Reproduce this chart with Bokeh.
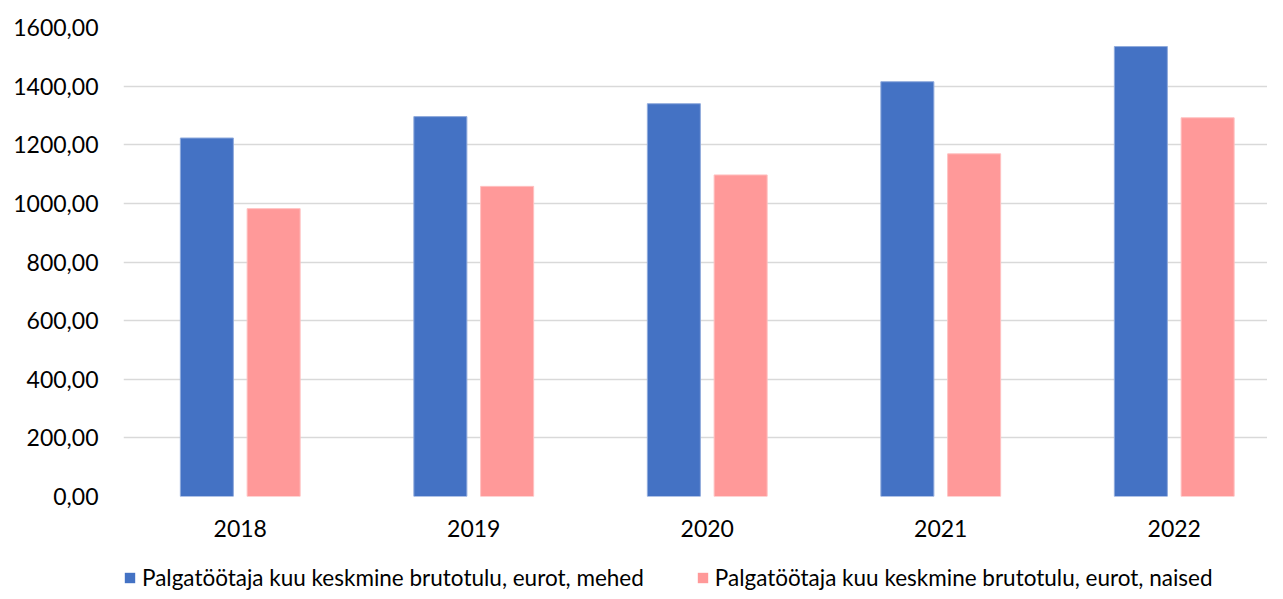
from bokeh.plotting import figure
from bokeh.layouts import column
from bokeh.models import ColumnDataSource, FixedTicker, Legend, LegendItem, Range1d
from bokeh.transform import dodge
from bokeh.embed import file_html
from bokeh.resources import INLINE

years = [2018, 2019, 2020, 2021, 2022]
men = [1223, 1296, 1340, 1415, 1535]
women = [982, 1058, 1097, 1169, 1292]
y_ticks = [0, 200, 400, 600, 800, 1000, 1200, 1400, 1600]
label_men = "Palgatöötaja kuu keskmine brutotulu, eurot, mehed"
label_women = "Palgatöötaja kuu keskmine brutotulu, eurot, naised"

src = ColumnDataSource(dict(year=years, men=men, women=women))

FONT = "Lato"
BLUE, PINK = "#4472C4", "#FF9999"
W, H_MAIN, H_LEG = 1267, 564, 27
LEFT, TOP, BOTTOM_Y = 123, 27, 496

p = figure(width=W, height=H_MAIN, output_backend="svg", toolbar_location=None,
           x_range=Range1d(2017.5, 2017.5 + (W - LEFT) / 233.5),
           y_range=Range1d(0, 1600),
           min_border_left=LEFT, min_border_top=TOP,
           min_border_bottom=H_MAIN - BOTTOM_Y, min_border_right=0)
p.outline_line_color = None

p.vbar(x=dodge("year", -0.143), top="men", width=0.227, source=src,
       fill_color=BLUE, line_color="#8faadc", line_width=1)
p.vbar(x=dodge("year", 0.143), top="women", width=0.227, source=src,
       fill_color=PINK, line_color="#ffc0c0", line_width=1)

p.xgrid.grid_line_color = None
p.ygrid.grid_line_color = "#d9d9d9"
p.ygrid.grid_line_width = 1.5
p.ygrid.ticker = FixedTicker(ticks=y_ticks)

p.yaxis.ticker = FixedTicker(ticks=y_ticks)
p.yaxis.major_label_overrides = {v: f"{v},00" for v in y_ticks}
p.yaxis.axis_line_color = None
p.yaxis.major_tick_line_color = None
p.yaxis.minor_tick_line_color = None
p.yaxis.major_tick_out = 0
p.yaxis.major_label_standoff = 25
p.yaxis.major_label_text_font = FONT
p.yaxis.major_label_text_font_size = "23px"
p.yaxis.major_label_text_color = "#000000"

p.xaxis.ticker = FixedTicker(ticks=years)
p.xaxis.major_label_overrides = {y: str(y) for y in years}
p.xaxis.axis_line_color = None
p.xaxis.major_tick_line_color = None
p.xaxis.minor_tick_line_color = None
p.xaxis.major_tick_out = 0
p.xaxis.major_label_standoff = 23
p.xaxis.major_label_text_font = FONT
p.xaxis.major_label_text_font_size = "23px"
p.xaxis.major_label_text_color = "#000000"

# legend strip below the chart
lg = figure(width=W, height=H_LEG, output_backend="svg", toolbar_location=None,
            x_range=Range1d(0, 1), y_range=Range1d(0, 1),
            x_axis_type=None, y_axis_type=None,
            min_border=0, min_border_left=0, min_border_right=0,
            min_border_top=0, min_border_bottom=0)
lg.outline_line_color = None
lg.xgrid.visible = False
lg.ygrid.visible = False
# legend renderers (kept out of view; only their swatches are shown)
l1 = lg.vbar(x="year", top="men", width=0.227, source=src, fill_color=BLUE, line_color=None)
l2 = lg.vbar(x="year", top="women", width=0.227, source=src, fill_color=PINK, line_color=None)

legend = Legend(items=[LegendItem(label=label_men, renderers=[l1]),
                       LegendItem(label=label_women, renderers=[l2])],
                orientation="horizontal", location=(0, 0),
                padding=0, margin=0, spacing=52, label_standoff=6,
                glyph_width=13, glyph_height=13, label_height=18,
                border_line_color=None, background_fill_alpha=0,
                label_text_font=FONT, label_text_font_size="22.5px",
                label_text_color="#000000")
lg.add_layout(legend, "center")

layout = column(p, lg, spacing=0)
open("out.html", "w").write(file_html(layout, INLINE))
